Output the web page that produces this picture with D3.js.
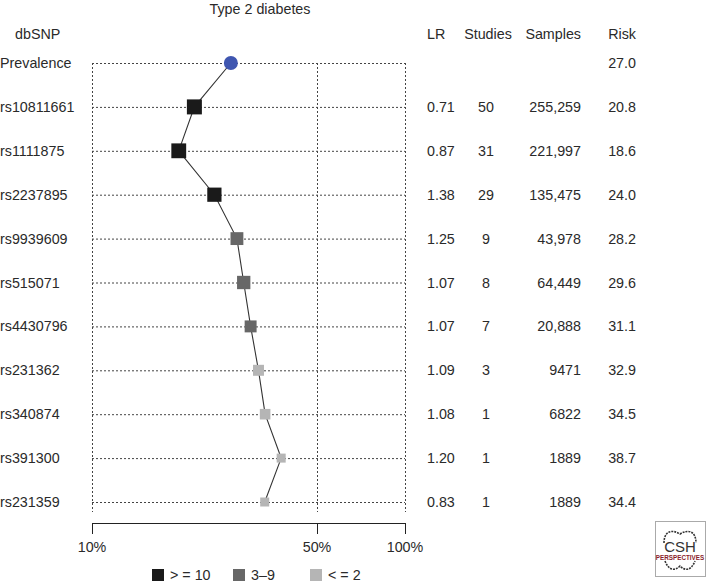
<!DOCTYPE html>
<html><head><meta charset="utf-8">
<script src="https://cdn.jsdelivr.net/npm/d3@7"></script>
<style>body{margin:0;background:#fff}svg text{font-family:"Liberation Sans",Arial,sans-serif}</style>
</head><body><svg id="c" width="709" height="583"></svg>
<script>
const title = "Type 2 diabetes";
const snps = ["Prevalence","rs10811661","rs1111875","rs2237895","rs9939609","rs515071","rs4430796","rs231362","rs340874","rs391300","rs231359"];
const risk = [27.0,20.8,18.6,24.0,28.2,29.6,31.1,32.9,34.5,38.7,34.4];
const lr = [null,"0.71","0.87","1.38","1.25","1.07","1.07","1.09","1.08","1.20","0.83"];
const studies = [null,50,31,29,9,8,7,3,1,1,1];
const samples = [null,255259,221997,135475,43978,64449,20888,9471,6822,1889,1889];
const groups = [null,0,0,0,1,1,1,2,2,2,2];
const tickVals = [10,50,100];
const tickLabels = ["10%","50%","100%"];
const legendLabels = ["> = 10","3–9","< = 2"];
const legendColors = ["#1a1a1a","#676767","#b5b5b5"];

const svg = d3.select("#c");
const fs = 14.3;
const tc = "#2a2a2a";
const x = d3.scaleLog().domain([10,50,100]).range([92,317,405]);
const y = d3.scalePoint().domain(snps).range([63,502]);
const sz = d3.scaleLog().domain([1889,255259]).range([9,15]);

svg.append("text").attr("x",260).attr("y",14).attr("text-anchor","middle").attr("font-size",fs).attr("fill",tc).text(title);

// header
const hy = 39;
const hdr = [["dbSNP",15,"start"],["LR",427,"start"],["Studies",488,"middle"],["Samples",581,"end"],["Risk",636,"end"]];
hdr.forEach(h=>svg.append("text").attr("x",h[1]).attr("y",hy).attr("text-anchor",h[2]).attr("font-size",fs).attr("fill",tc).text(h[0]));

// grid
const g = svg.append("g").attr("stroke","#444").attr("stroke-width",1).attr("stroke-dasharray","2,2").attr("fill","none");
snps.forEach(s=>g.append("line").attr("x1",x(10)).attr("x2",x(100)).attr("y1",y(s)+0.5).attr("y2",y(s)+0.5));
tickVals.forEach(v=>g.append("line").attr("x1",Math.round(x(v))+0.5).attr("x2",Math.round(x(v))+0.5).attr("y1",y(snps[0])).attr("y2",512));

// connecting line
const line = d3.line().x(d=>x(d)).y((d,i)=>y(snps[i]));
svg.append("path").attr("d",line(risk)).attr("fill","none").attr("stroke","#333").attr("stroke-width",1.1);

// markers
risk.forEach((r,i)=>{
  if(i===0){
    svg.append("circle").attr("cx",x(r)).attr("cy",y(snps[i])).attr("r",7).attr("fill","#3f56b0");
  } else {
    const s = sz(samples[i]);
    svg.append("rect").attr("x",x(r)-s/2).attr("y",y(snps[i])-s/2).attr("width",s).attr("height",s).attr("fill",legendColors[groups[i]]);
  }
});

// row texts
snps.forEach((s,i)=>{
  const yy = y(s)+5;
  svg.append("text").attr("x",0).attr("y",yy).attr("font-size",fs).attr("fill",tc).text(s);
  if(lr[i]!==null){
    svg.append("text").attr("x",427).attr("y",yy).attr("font-size",fs).attr("fill",tc).text(lr[i]);
    svg.append("text").attr("x",486).attr("y",yy).attr("text-anchor","middle").attr("font-size",fs).attr("fill",tc).text(studies[i]);
    svg.append("text").attr("x",581).attr("y",yy).attr("text-anchor","end").attr("font-size",fs).attr("fill",tc).text(samples[i]>=10000?d3.format(",")(samples[i]):String(samples[i]));
  }
  svg.append("text").attr("x",636).attr("y",yy).attr("text-anchor","end").attr("font-size",fs).attr("fill",tc).text(risk[i].toFixed(1));
});

// axis
const ax = svg.append("g").attr("transform","translate(0,523)");
ax.append("line").attr("x1",x(10)).attr("x2",x(100)+0.5).attr("y1",0.5).attr("y2",0.5).attr("stroke","#222");
tickVals.forEach((v,i)=>{
  const xx = Math.round(x(v))+0.5;
  ax.append("line").attr("x1",xx).attr("x2",xx).attr("y1",0).attr("y2",11).attr("stroke","#222");
  ax.append("text").attr("x",x(v)).attr("y",29).attr("text-anchor","middle").attr("font-size",fs).attr("fill",tc).text(tickLabels[i]);
});

// legend
const lx = [152,233,310];
legendLabels.forEach((l,i)=>{
  svg.append("rect").attr("x",lx[i]).attr("y",569).attr("width",12).attr("height",12).attr("fill",legendColors[i]);
  svg.append("text").attr("x",lx[i]+18).attr("y",580).attr("font-size",fs).attr("fill",tc).text(l);
});

// logo
const lg = svg.append("g").attr("transform","translate(655,521)");
lg.append("rect").attr("x",0.5).attr("y",0.5).attr("width",50).attr("height",55).attr("fill","#fff").attr("stroke","#aaa");
lg.append("path").attr("d","M9,22 C9,10 17,8 25,13 C33,8 41,10 41,22").attr("fill","none").attr("stroke","#333").attr("stroke-width",1.6).attr("stroke-dasharray","2,1");
lg.append("path").attr("d","M10,40 C14,50 20,50 25,45 C30,50 36,50 40,40").attr("fill","none").attr("stroke","#333").attr("stroke-width",1.6).attr("stroke-dasharray","2,1");
lg.append("text").attr("x",25).attr("y",31).attr("text-anchor","middle").attr("font-size",15).attr("fill","#333").text("CSH");
lg.append("text").attr("x",25).attr("y",39).attr("text-anchor","middle").attr("font-size",6.3).attr("font-weight","bold").attr("fill","#8a1c2b").text("PERSPECTIVES");
</script></body></html>
